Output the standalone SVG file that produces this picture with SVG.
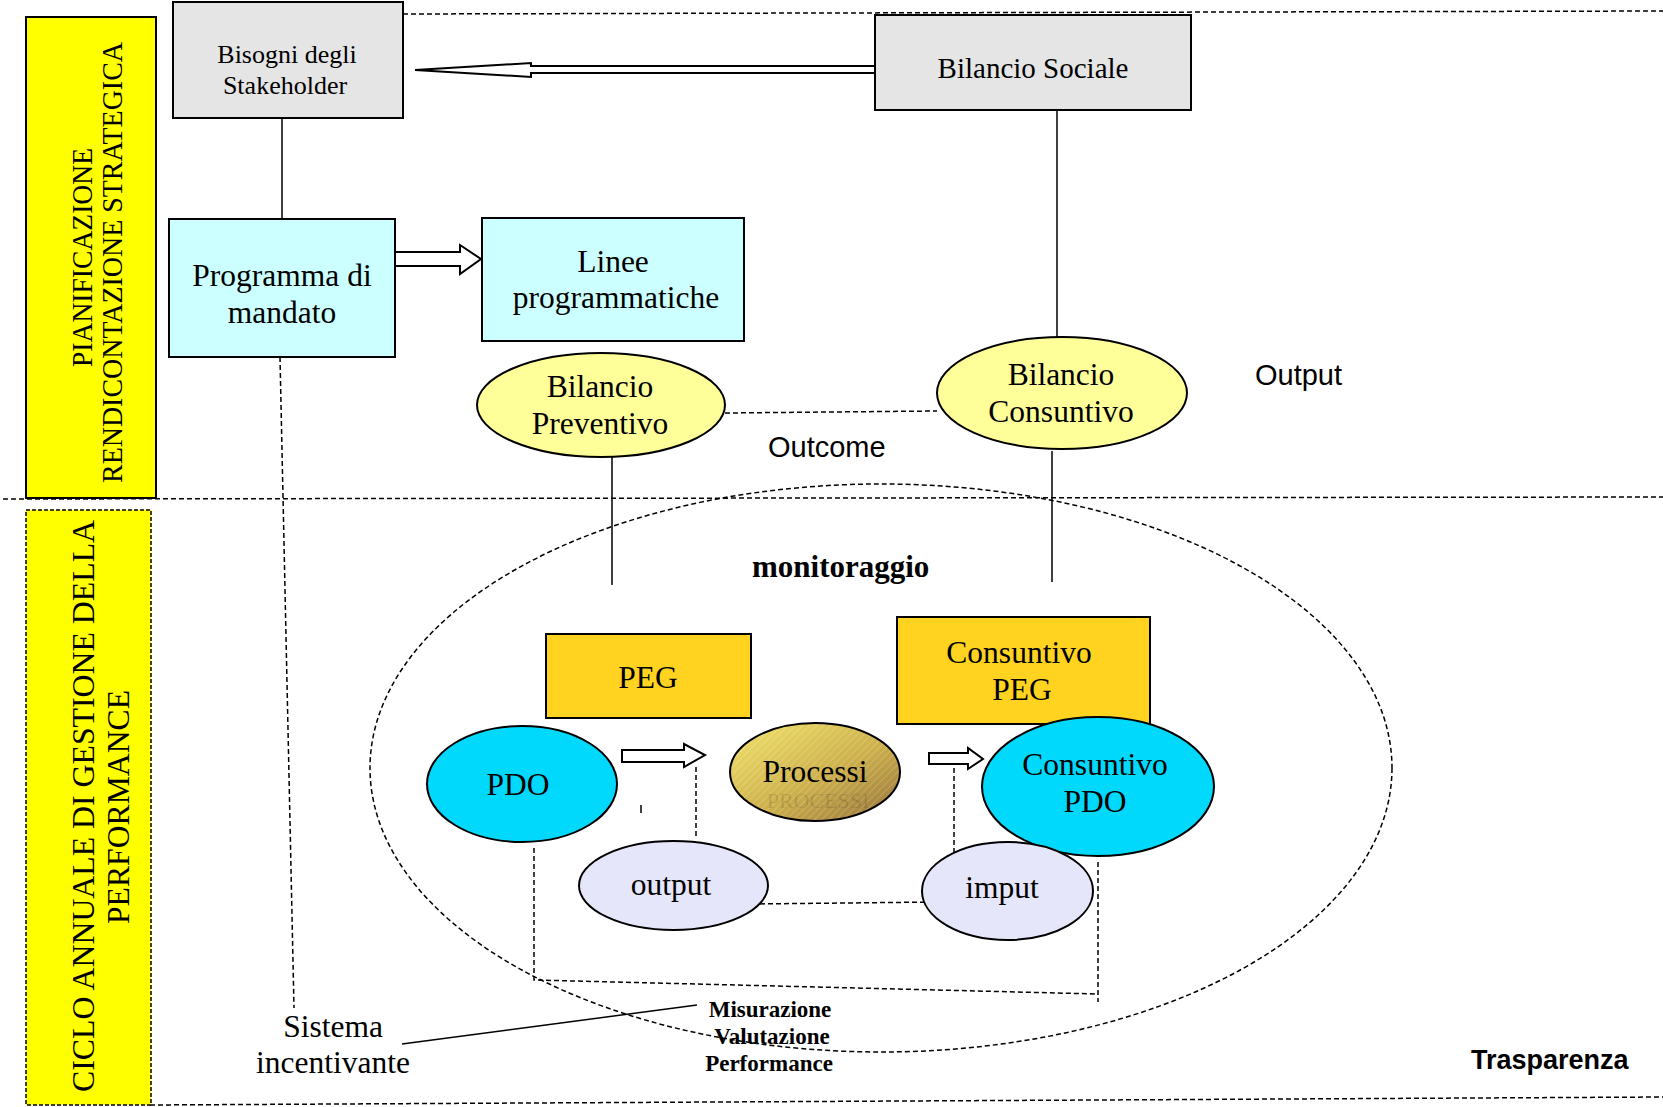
<svg xmlns="http://www.w3.org/2000/svg" width="1663" height="1107" viewBox="0 0 1663 1107">
<style>
.ser{font-family:"Liberation Serif","Times New Roman",serif;fill:#000}
.san{font-family:"Liberation Sans",Arial,sans-serif;fill:#000}
.c{text-anchor:middle}
.box{stroke:#000;stroke-width:2}
.ln{stroke:#000;stroke-width:1.5;fill:none}
.dl{stroke:#000;stroke-width:1.5;fill:none;stroke-dasharray:5 3}
.arr{fill:#fff;stroke:#000;stroke-width:2;stroke-linejoin:miter}
</style>
<defs>
<linearGradient id="gold" x1="0" y1="0" x2="1" y2="1">
<stop offset="0" stop-color="#f3e56c"/>
<stop offset="0.55" stop-color="#cdb04c"/>
<stop offset="1" stop-color="#95723a"/>
</linearGradient>
<pattern id="hatch" width="5" height="5" patternUnits="userSpaceOnUse" patternTransform="rotate(45)">
<line x1="0" y1="0" x2="0" y2="5" stroke="#ffffff" stroke-opacity="0.25" stroke-width="1.5"/>
</pattern>
</defs>

<g id="borders">
<line class="dl" x1="403" y1="14" x2="1663" y2="11"/>
<line class="dl" x1="3" y1="499" x2="1663" y2="497"/>
<line class="dl" x1="150" y1="1105" x2="1663" y2="1097"/>
</g>

<g id="lane-top">
<rect x="26" y="17" width="130" height="481" fill="#ffff00" stroke="#000" stroke-width="2"/>
<text class="ser c" font-size="29" transform="translate(92,257.5) rotate(-90)" textLength="219" lengthAdjust="spacingAndGlyphs">PIANIFICAZIONE</text>
<text class="ser c" font-size="29" transform="translate(122,262.5) rotate(-90)" textLength="441" lengthAdjust="spacingAndGlyphs">RENDICONTAZIONE STRATEGICA</text>
</g>

<g id="lane-bottom">
<rect x="26" y="510" width="125" height="595" fill="#ffff00" stroke="#000" stroke-width="1.5" stroke-dasharray="4 2"/>
<text class="ser c" font-size="32" transform="translate(94,806) rotate(-90)" textLength="572" lengthAdjust="spacingAndGlyphs">CICLO ANNUALE DI GESTIONE DELLA</text>
<text class="ser c" font-size="32" transform="translate(129,807) rotate(-90)" textLength="234" lengthAdjust="spacingAndGlyphs">PERFORMANCE</text>
</g>

<g id="monitoring-area">
<ellipse cx="881" cy="768" rx="511" ry="284" fill="none" stroke="#000" stroke-width="1.5" stroke-dasharray="5 3"/>
</g>

<g id="connectors">
<line class="ln" x1="282" y1="118" x2="282" y2="219"/>
<line class="ln" x1="1057" y1="110" x2="1057" y2="337"/>
<line class="ln" x1="612" y1="457" x2="612" y2="585"/>
<line class="ln" x1="1052" y1="451" x2="1052" y2="582"/>
<line class="dl" x1="725" y1="413" x2="937" y2="411"/>
<line class="dl" x1="280" y1="357" x2="294" y2="1008"/>
<line class="ln" x1="402" y1="1044" x2="697" y2="1005"/>
<polyline class="dl" points="534,848 534,980 1098,994"/>
<line class="dl" x1="1098" y1="862" x2="1098" y2="1002"/>
<line class="dl" x1="696" y1="767" x2="696" y2="836"/>
<line class="dl" x1="954" y1="760" x2="954" y2="852"/>
<line class="dl" x1="752" y1="904" x2="937" y2="902"/>
<line class="ln" x1="641" y1="805" x2="641" y2="813"/>
<polygon class="arr" points="875,66 531,66 531,63 415,70 531,77 531,73 875,73"/>
<polygon class="arr" points="395,252 460,252 460,245 481,259 460,274 460,266 395,266"/>
<polygon class="arr" points="622,750 684,750 684,744 705,755 684,767 684,762 622,762"/>
<polygon class="arr" points="929,753 968,753 968,748 983,759 968,769 968,764 929,764"/>
</g>

<g id="bisogni">
<rect class="box" x="173" y="2" width="230" height="116" fill="#e5e5e5"/>
<text class="ser c" font-size="26" x="287" y="63">Bisogni degli</text>
<text class="ser c" font-size="26" x="285" y="94">Stakeholder</text>
</g>

<g id="bilancio-sociale">
<rect class="box" x="875" y="15" width="316" height="95" fill="#e5e5e5"/>
<text class="ser c" font-size="29" x="1033" y="78">Bilancio Sociale</text>
</g>

<g id="programma">
<rect class="box" x="169" y="219" width="226" height="138" fill="#ccffff"/>
<text class="ser c" font-size="31.5" x="282" y="286">Programma di</text>
<text class="ser c" font-size="31.5" x="282" y="323">mandato</text>
</g>

<g id="linee">
<rect class="box" x="482" y="218" width="262" height="123" fill="#ccffff"/>
<text class="ser c" font-size="31.5" x="613" y="272">Linee</text>
<text class="ser c" font-size="31.5" x="616" y="308">programmatiche</text>
</g>

<g id="bilancio-preventivo">
<ellipse class="box" cx="601" cy="405" rx="124" ry="52" fill="#ffff99"/>
<text class="ser c" font-size="31.5" x="600" y="397">Bilancio</text>
<text class="ser c" font-size="31.5" x="600" y="434">Preventivo</text>
</g>

<g id="bilancio-consuntivo">
<ellipse class="box" cx="1062" cy="393" rx="125" ry="56" fill="#ffff99"/>
<text class="ser c" font-size="31.5" x="1061" y="385">Bilancio</text>
<text class="ser c" font-size="31.5" x="1061" y="422">Consuntivo</text>
</g>

<g id="labels">
<text class="san" font-size="29" x="1255" y="385">Output</text>
<text class="san" font-size="29" x="768" y="457">Outcome</text>
<text class="ser" font-size="31" font-weight="bold" x="752" y="577">monitoraggio</text>
<text class="san" font-size="27" font-weight="bold" x="1471" y="1069">Trasparenza</text>
</g>

<g id="peg">
<rect class="box" x="546" y="634" width="205" height="84" fill="#ffd320"/>
<text class="ser c" font-size="31.5" x="648" y="688">PEG</text>
</g>

<g id="consuntivo-peg">
<rect class="box" x="897" y="617" width="253" height="107" fill="#ffd320"/>
<text class="ser c" font-size="31.5" x="1019" y="663">Consuntivo</text>
<text class="ser c" font-size="31.5" x="1022" y="700">PEG</text>
</g>

<g id="pdo">
<ellipse class="box" cx="522" cy="784" rx="95" ry="58" fill="#00d8fc"/>
<text class="ser c" font-size="31.5" x="518" y="795">PDO</text>
</g>

<g id="processi">
<ellipse cx="815" cy="772" rx="85" ry="49" fill="url(#gold)"/>
<ellipse class="box" cx="815" cy="772" rx="85" ry="49" fill="url(#hatch)"/>
<text class="ser c" font-size="22" x="818" y="808" fill-opacity="0.12" style="fill:#000">PROCESSI</text>
<text class="ser c" font-size="31.5" x="815" y="782">Processi</text>
</g>

<g id="consuntivo-pdo">
<ellipse class="box" cx="1098" cy="786.5" rx="116" ry="69.5" fill="#00d8fc"/>
<text class="ser c" font-size="31.5" x="1095" y="775">Consuntivo</text>
<text class="ser c" font-size="31.5" x="1095" y="812">PDO</text>
</g>

<g id="output">
<ellipse class="box" cx="673.5" cy="885.5" rx="94.5" ry="44.5" fill="#e6e6fa"/>
<text class="ser c" font-size="31.5" x="671" y="895">output</text>
</g>

<g id="imput">
<ellipse class="box" cx="1007.5" cy="891" rx="85.5" ry="49" fill="#e6e6fa"/>
<text class="ser c" font-size="31.5" x="1002" y="898">imput</text>
</g>

<g id="sistema">
<text class="ser c" font-size="31.5" x="333" y="1037">Sistema</text>
<text class="ser c" font-size="31.5" x="333" y="1073">incentivante</text>
</g>

<g id="misurazione">
<text class="ser c" font-size="23" font-weight="bold" x="770" y="1017">Misurazione</text>
<text class="ser c" font-size="23" font-weight="bold" x="772" y="1044">Valutazione</text>
<text class="ser c" font-size="23" font-weight="bold" x="769" y="1071">Performance</text>
</g>
</svg>
